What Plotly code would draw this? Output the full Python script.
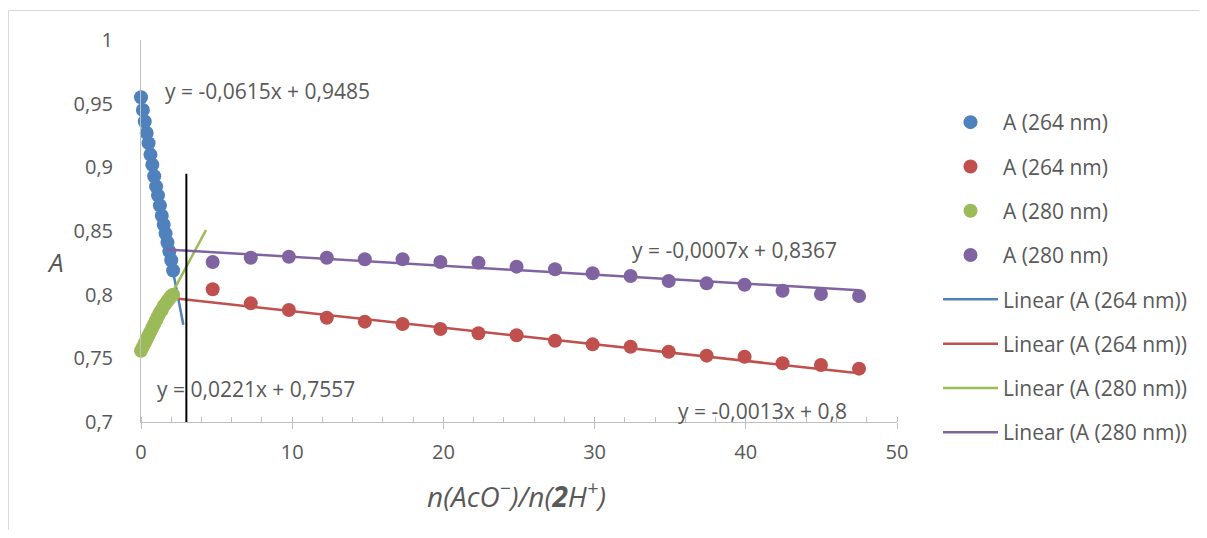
import plotly.graph_objects as go

# ---------------- data ----------------
x_low = [0.0, 0.125, 0.25, 0.375, 0.5, 0.625, 0.75, 0.875, 1.0, 1.125,
         1.25, 1.375, 1.5, 1.625, 1.75, 1.875, 2.0, 2.125]
a264_low = [0.955, 0.945, 0.936, 0.927, 0.919, 0.910, 0.902, 0.893, 0.885, 0.878,
            0.870, 0.862, 0.855, 0.848, 0.841, 0.834, 0.827, 0.819]
a280_low = [0.756, 0.759, 0.762, 0.765, 0.768, 0.771, 0.774, 0.777, 0.780, 0.783,
            0.786, 0.788, 0.791, 0.793, 0.795, 0.797, 0.799, 0.800]

x_high = [4.74, 7.26, 9.78, 12.29, 14.8, 17.3, 19.8, 22.32, 24.84,
          27.38, 29.87, 32.38, 34.9, 37.41, 39.92, 42.43, 44.97, 47.49]
a264_high = [0.8042, 0.7932, 0.7880, 0.7819, 0.7788, 0.7770, 0.7730, 0.7697, 0.7681,
             0.7638, 0.7610, 0.7591, 0.7552, 0.7521, 0.7513, 0.7461, 0.7448, 0.7419]
a280_high = [0.8257, 0.8290, 0.8298, 0.8290, 0.8278, 0.8278, 0.8257, 0.8251, 0.8220,
             0.8200, 0.8168, 0.8147, 0.8107, 0.8089, 0.8078, 0.8031, 0.8005, 0.7989]

series_names = ["A (264 nm)", "A (264 nm)", "A (280 nm)", "A (280 nm)"]
trend_names = ["Linear (A (264 nm))", "Linear (A (264 nm))",
               "Linear (A (280 nm))", "Linear (A (280 nm))"]
trend_slope = [-0.0615, -0.0013, 0.0221, -0.0007]
trend_icept = [0.9485, 0.8, 0.7557, 0.8367]
trend_xrange = [[0.0, 2.8], [1.76, 47.49], [0.0, 4.3], [1.7, 47.49]]
trend_labels = ["y = -0,0615x + 0,9485", "y = -0,0013x + 0,8",
                "y = 0,0221x + 0,7557", "y = -0,0007x + 0,8367"]
label_pos = [[1.45, 0.960], [35.38, 0.7086], [0.93, 0.726], [32.34, 0.835]]

x_ticks = [0, 10, 20, 30, 40, 50]
y_ticks = [0.7, 0.75, 0.8, 0.85, 0.9, 0.95, 1.0]
marker_line_x = 3
marker_line_y = [0.69, 0.895]

colors = ["#4F81BD", "#C0504D", "#9BBB59", "#8064A2"]
xs = [x_low, x_high, x_low, x_high]
ys = [a264_low, a264_high, a280_low, a280_high]

TXT = "#595959"
FONT = "Open Sans"

# page offset of the figure (body margin) and plot area in page pixels
OFF = 8
PL, PR, PT, PB = 141, 897, 40, 422
W, H = 1207 - 2 * OFF, 538 - 2 * OFF
PW, PH = PR - PL, PB - PT


def px(xp):
    return (xp - PL) / PW


def py(yp):
    return (PB - yp) / PH


fig = go.Figure()
for i in range(4):
    fig.add_trace(go.Scatter(
        x=xs[i], y=ys[i], mode="markers", name=series_names[i],
        marker=dict(color=colors[i], size=14),
        cliponaxis=False, legendrank=i + 1, legendgroup="s%d" % i))
    x0, x1 = trend_xrange[i]
    fig.add_trace(go.Scatter(
        x=[x0, x1], y=[trend_slope[i] * x0 + trend_icept[i], trend_slope[i] * x1 + trend_icept[i]],
        mode="lines", name=trend_names[i],
        line=dict(color=colors[i], width=2.5),
        cliponaxis=False, legendrank=i + 5, legendgroup="t%d" % i))

for i in range(4):
    fig.add_annotation(x=label_pos[i][0], y=label_pos[i][1], xref="x", yref="y",
                       text=trend_labels[i], showarrow=False, xanchor="left", yanchor="middle",
                       font=dict(family=FONT, size=21, color=TXT))

fig.add_shape(type="line", xref="x", yref="y", x0=marker_line_x, x1=marker_line_x,
              y0=marker_line_y[0], y1=marker_line_y[1], line=dict(color="black", width=2))

# outer chart border (left and top edges; the rest lies outside the window)
fig.add_shape(type="line", xref="paper", yref="paper",
              x0=px(8.5), x1=px(8.5), y0=py(560), y1=py(10.5),
              line=dict(color="#D9D9D9", width=1), layer="below")
fig.add_shape(type="line", xref="paper", yref="paper",
              x0=px(8.5), x1=px(1230), y0=py(10.5), y1=py(10.5),
              line=dict(color="#D9D9D9", width=1), layer="below")

fig.add_annotation(xref="paper", yref="paper", x=px(516), y=py(494),
                   text="<i>n(AcO<sup>−</sup>)/n(<b>2</b>H<sup>+</sup>)</i>", showarrow=False,
                   xanchor="center", yanchor="middle",
                   font=dict(family=FONT, size=28, color=TXT))
fig.add_annotation(xref="paper", yref="paper", x=px(55), y=py(262),
                   text="<i>A</i>", showarrow=False, xanchor="center", yanchor="middle",
                   font=dict(family=FONT, size=26, color=TXT))

fig.update_layout(
    width=W, height=H,
    margin=dict(l=PL - OFF, r=W - (PR - OFF), t=PT - OFF, b=H - (PB - OFF),
                autoexpand=False),
    paper_bgcolor="white", plot_bgcolor="white",
    separators=", ",
    font=dict(family=FONT, color=TXT),
    showlegend=True,
    legend=dict(x=px(938), y=py(102), xanchor="left", yanchor="top",
                font=dict(family=FONT, size=21, color=TXT),
                tracegroupgap=14, itemwidth=55, bgcolor="rgba(0,0,0,0)"),
    xaxis=dict(range=[0, 50], tickvals=x_ticks, showgrid=False, zeroline=False,
               showline=True, linecolor="#BFBFBF", linewidth=1,
               ticks="outside", ticklen=6, tickcolor="#BFBFBF",
               minor=dict(dtick=2, ticks="inside", ticklen=5, tickcolor="#BFBFBF"),
               tickfont=dict(family=FONT, size=20, color=TXT), ticklabelstandoff=6),
    yaxis=dict(range=[0.7, 1.0], tickvals=y_ticks, showgrid=False, zeroline=False,
               showline=True, linecolor="#BFBFBF", linewidth=1, ticks="",
               tickfont=dict(family=FONT, size=20, color=TXT), ticklabelstandoff=23),
)

fig.write_html("out.html")
